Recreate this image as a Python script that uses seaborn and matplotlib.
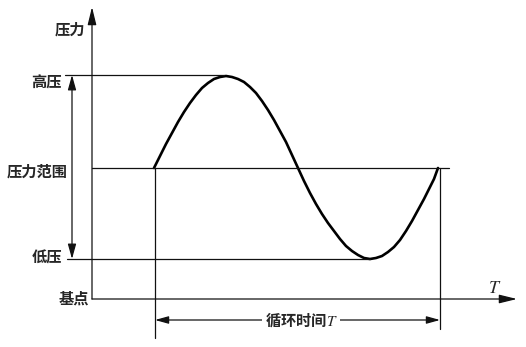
import matplotlib
matplotlib.use("Agg")
import matplotlib.pyplot as plt
import seaborn as sns
import pandas as pd

# ---- data (chart units: time along x, pressure along y; origin = 基点) ----
cycle_time = [0, 6, 12, 18, 24, 30, 36, 42, 48, 54, 60, 66, 72, 78, 84, 90,
              96, 102, 108, 114, 120, 126, 132, 138, 144, 150, 156, 162, 168,
              174, 180, 186, 192, 198, 204, 210, 216, 222, 228, 234, 240,
              246, 252, 258, 264, 270, 276, 280, 284]
pressure = [0, 12, 24, 35, 46, 56, 65, 73, 80, 85, 89, 91, 92, 91, 89, 86,
            81, 75, 67, 58, 48, 37, 26, 13, 0, -13, -25, -36, -46,
            -55, -63, -71, -78, -83, -87, -90, -91, -90, -88, -84, -79,
            -72, -63, -53, -42, -31, -19, -11, 0]
level_names = ["压力", "高压", "压力范围", "低压", "基点"]
high_p, mid_p, low_p, base_p = 224, 131, 40, 0
cycle_start, cycle_end = 62, 346
axis_label = "$T$"
cycle_label = "循环时间$T$"

sns.set_theme(style="white")
plt.rcParams["font.family"] = ["Noto Sans CJK SC", "DejaVu Sans"]
plt.rcParams["mathtext.fontset"] = "stix"

fig = plt.figure(figsize=(5.26, 3.47), dpi=100)
ax = fig.add_axes([0, 0, 1, 1])
ax.set_xlim(-92, 434)
ax.set_ylim(-48, 299)
ax.axis("off")

df = pd.DataFrame({"t": [cycle_start + t for t in cycle_time],
                   "p": [mid_p + p for p in pressure]})
sns.lineplot(data=df, x="t", y="p", ax=ax, color="black", lw=1.9,
             sort=False, estimator=None)
ax.set_xlabel("")
ax.set_ylabel("")

lc = "#111111"
lw = 0.9
# axes with arrows
arrow_kw = dict(arrowstyle="-|>,head_length=0.9,head_width=0.22", color=lc,
                lw=lw, mutation_scale=12, shrinkA=0, shrinkB=0)
ax.annotate("", xy=(0, 292), xytext=(0, base_p), arrowprops=arrow_kw)
ax.annotate("", xy=(425, base_p), xytext=(0, base_p), arrowprops=arrow_kw)

# level lines
ax.plot([-27, 132], [high_p, high_p], color=lc, lw=lw)
ax.plot([0, 357], [mid_p, mid_p], color=lc, lw=lw)
ax.plot([-25, 278], [low_p, low_p], color=lc, lw=lw)

# vertical lines at cycle ends
ax.plot([cycle_start + 1, cycle_start + 1], [mid_p, -39], color=lc, lw=lw)
ax.plot([cycle_end + 2, cycle_end + 2], [mid_p, -30], color=lc, lw=lw)

# pressure range double arrow
darrow = dict(arrowstyle="<|-|>,head_length=0.9,head_width=0.25", color=lc,
              lw=lw, mutation_scale=10, shrinkA=0, shrinkB=0)
ax.annotate("", xy=(-20, high_p), xytext=(-20, low_p), arrowprops=darrow)

# cycle time dimension
harrow = dict(arrowstyle="<|-|>,head_length=0.9,head_width=0.25", color=lc,
              lw=lw, mutation_scale=9, shrinkA=0, shrinkB=0)
ax.annotate("", xy=(cycle_start + 1, -21), xytext=(cycle_end + 2, -21),
            arrowprops=harrow)
ax.text((cycle_start + cycle_end) / 2 + 5, -21, cycle_label, ha="center",
        va="center", fontsize=11, fontweight="bold",
        bbox=dict(facecolor="white", edgecolor="none", pad=2))

# labels
fs = 11
for txt, x, y in [(level_names[0], -7, 269), (level_names[1], -30, 216),
                  (level_names[2], -24, 127), (level_names[3], -30, 41),
                  (level_names[4], -3, 0)]:
    ax.text(x, y, txt, ha="right", va="center", fontsize=fs,
            fontweight="bold")
ax.text(403, 11, axis_label, ha="center", va="center", fontsize=13)

fig.savefig("out.png", dpi=100)
